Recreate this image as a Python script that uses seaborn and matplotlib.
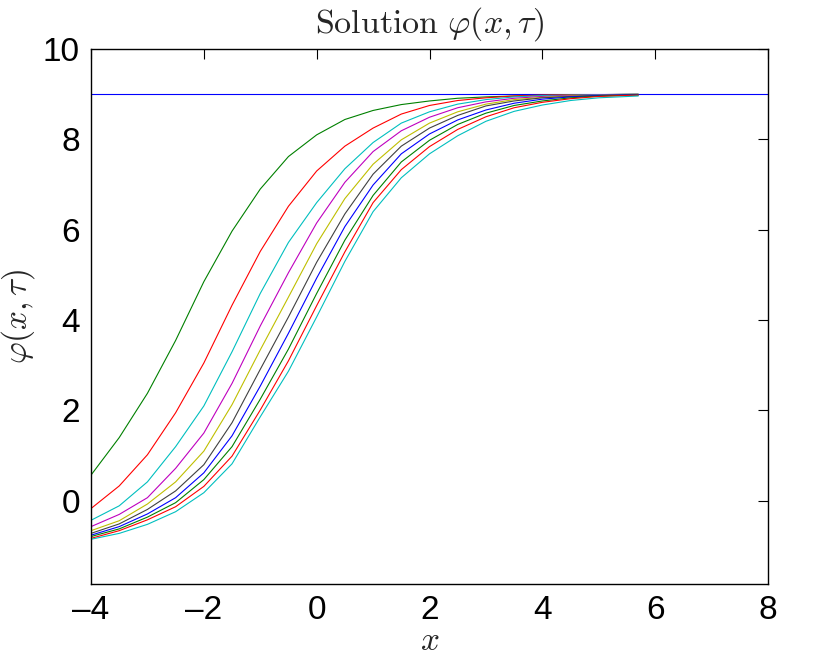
import numpy as np
import pandas as pd
import matplotlib
matplotlib.use("Agg")
import matplotlib.pyplot as plt
import seaborn as sns

# ---- data ----
x_grid = [-4, -3.5, -3, -2.5, -2, -1.5, -1, -0.5, 0, 0.5, 1, 1.5, 2, 2.5, 3, 3.5, 4, 4.5, 5, 5.7]

flat_x = [-4, 8]
flat_phi = [9.0, 9.0]

phi_1 = [0.57, 1.40, 2.38, 3.55, 4.85, 5.97, 6.90, 7.62, 8.10, 8.44, 8.64, 8.77, 8.85, 8.91, 8.94, 8.96, 8.975, 8.985, 8.99, 8.995]
phi_2 = [-0.17, 0.33, 1.02, 1.95, 3.05, 4.33, 5.52, 6.52, 7.30, 7.85, 8.25, 8.56, 8.75, 8.86, 8.92, 8.96, 8.98, 8.99, 8.99, 9.0]
phi_3 = [-0.43, -0.11, 0.42, 1.20, 2.10, 3.30, 4.59, 5.72, 6.60, 7.35, 7.93, 8.36, 8.61, 8.78, 8.88, 8.94, 8.97, 8.98, 8.99, 9.0]
phi_4 = [-0.57, -0.30, 0.07, 0.72, 1.50, 2.60, 3.87, 5.05, 6.15, 7.05, 7.73, 8.19, 8.49, 8.70, 8.83, 8.91, 8.95, 8.97, 8.98, 8.99]
phi_5 = [-0.66, -0.44, -0.07, 0.42, 1.10, 2.13, 3.34, 4.51, 5.69, 6.69, 7.45, 7.99, 8.36, 8.61, 8.78, 8.88, 8.93, 8.96, 8.97, 8.99]
phi_6 = [-0.72, -0.51, -0.19, 0.22, 0.80, 1.73, 2.91, 4.07, 5.28, 6.35, 7.23, 7.85, 8.25, 8.53, 8.74, 8.85, 8.92, 8.95, 8.97, 8.99]
phi_7 = [-0.76, -0.57, -0.29, 0.07, 0.62, 1.44, 2.54, 3.71, 4.93, 6.07, 6.99, 7.68, 8.12, 8.43, 8.65, 8.80, 8.89, 8.94, 8.97, 8.99]
phi_8 = [-0.79, -0.62, -0.36, -0.04, 0.47, 1.20, 2.25, 3.36, 4.59, 5.77, 6.76, 7.50, 7.98, 8.33, 8.58, 8.75, 8.85, 8.92, 8.96, 8.98]
phi_9 = [-0.83, -0.66, -0.42, -0.13, 0.32, 0.99, 2.01, 3.10, 4.32, 5.51, 6.60, 7.33, 7.84, 8.22, 8.50, 8.70, 8.82, 8.90, 8.95, 8.98]
phi_10 = [-0.85, -0.72, -0.52, -0.24, 0.18, 0.82, 1.86, 2.87, 4.07, 5.30, 6.40, 7.15, 7.68, 8.08, 8.40, 8.62, 8.76, 8.86, 8.92, 8.96]

curve_names = ["c0", "c1", "c2", "c3", "c4", "c5", "c6", "c7", "c8", "c9", "c10"]
curve_colors = ["#0000ff", "#008000", "#ff0000", "#00bfbf", "#bf00bf", "#bfbf00",
                "#404040", "#0000ff", "#008000", "#ff0000", "#00bfbf"]

x_ticks = [-4, -2, 0, 2, 4, 6, 8]
y_ticks = [0, 2, 4, 6, 8, 10]

# ---- build long-form table ----
frames = [pd.DataFrame({"x": flat_x, "phi": flat_phi, "curve": curve_names[0]})]
for name, vals in zip(curve_names[1:], [phi_1, phi_2, phi_3, phi_4, phi_5, phi_6,
                                        phi_7, phi_8, phi_9, phi_10]):
    frames.append(pd.DataFrame({"x": x_grid, "phi": vals, "curve": name}))
df = pd.concat(frames, ignore_index=True)

sns.set_style("white")
plt.rcParams["mathtext.fontset"] = "cm"
plt.rcParams["font.family"] = ["Liberation Sans", "DejaVu Sans"]

fig = plt.figure(figsize=(8.4, 6.57), dpi=100)
ax = fig.add_axes([91 / 840, 1 - 584 / 657, (768 - 91) / 840, (584 - 49) / 657])

sns.lineplot(data=df, x="x", y="phi", hue="curve", hue_order=curve_names,
             palette=dict(zip(curve_names, curve_colors)), legend=False,
             estimator=None, sort=False, linewidth=0.8, ax=ax)

ax.set_xlim(-4, 8)
ax.set_ylim(-1.84, 10)
ax.set_xticks(x_ticks)
ax.set_yticks(y_ticks)
ax.set_xticklabels(["\u2013" + str(abs(t)) if t < 0 else str(t) for t in x_ticks])
ax.set_yticklabels([str(t) for t in y_ticks])
ax.tick_params(direction="in", length=7, width=0.8, top=True, right=True,
               labelsize=24, pad=8, colors="black")
for s in ax.spines.values():
    s.set_visible(True)
    s.set_color("black")
    s.set_linewidth(1.0)

ax.set_xlabel(r"$x$", fontsize=24, labelpad=0)
ax.set_ylabel(r"$\varphi(x,\tau)$", fontsize=24, labelpad=4)
ax.set_title(r"$\mathrm{Solution}\ \varphi(x,\tau)$", fontsize=24.5, pad=12)

fig.savefig("out.png", dpi=100, facecolor="white")
